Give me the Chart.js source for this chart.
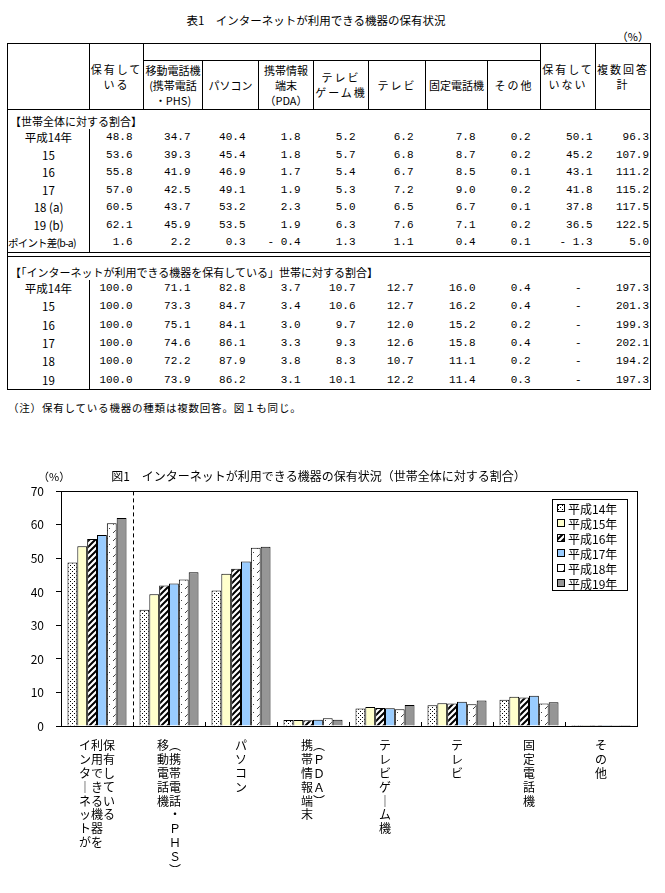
<!DOCTYPE html>
<html>
<head>
<meta charset="utf-8">
<script src="https://cdn.jsdelivr.net/npm/chart.js@4.4.1/dist/chart.umd.min.js"></script>
<style>
  body { margin: 0; width: 665px; height: 893px; position: relative; overflow: hidden; background: #fff;
         font-family: "Noto Sans CJK JP", sans-serif; font-size: 11px; color: #000; }
  #t1title { position: absolute; top: 12px; left: 0; width: 632px; text-align: center; font-size: 11.5px; }
  #unit { position: absolute; top: 28px; right: 16px; font-size: 11px; }
  #tbl { position: absolute; top: 43px; left: 7px; width: 643px; border-collapse: collapse;
         table-layout: fixed; border: 1px solid #000; }
  #tbl td { padding: 0; white-space: nowrap; overflow: visible; line-height: 15px; }
  #tbl tr.hA td, #tbl tr.hB td { border: 1px solid #000; text-align: center; vertical-align: middle; }
  #tbl tr.hA { height: 17px; }
  #tbl tr.hB { height: 49px; }
  .sp { letter-spacing: 2px; }
  #tbl tr.sec td { height: 19px; padding-left: 2px; vertical-align: bottom; }
  #tbl tr.sec2 td { height: 23px; padding-left: 2px; vertical-align: bottom; }
  #tbl tr.row td { height: 17.5px; text-align: right; font-family: "Liberation Mono", monospace; font-size: 11px; }
  #tbl tr.row2 td { height: 18.3px; }
  #tbl tr.row td.lab { border-right: 1px solid #000; text-align: center; font-family: "Noto Sans CJK JP", sans-serif; font-size: 11.5px; }
  #tbl tr.row td.labsm { font-size: 10.5px; letter-spacing: -0.8px; text-align: left; }
  #tbl tr.gap td { height: 3px; border-top: 1px solid #000; border-bottom: 1px solid #000; line-height: 0; }
  #note { position: absolute; top: 400px; left: 8px; letter-spacing: 0.8px; font-size: 10.5px; }
  #chartBox { position: absolute; top: 455px; left: 0; width: 665px; height: 438px; }
</style>
</head>
<body>
<div id="t1title">表1　インターネットが利用できる機器の保有状況</div>
<div id="unit">（%）</div>
<table id="tbl">
  <colgroup>
    <col style="width:82px"><col style="width:54px"><col style="width:59px"><col style="width:56px">
    <col style="width:55px"><col style="width:55px"><col style="width:57px"><col style="width:62px">
    <col style="width:53px"><col style="width:55px"><col style="width:55px">
  </colgroup>
  <tbody id="tbody">
    <tr class="hA">
      <td rowspan="2"></td>
      <td rowspan="2" class="sp">保有して<br>いる</td>
      <td colspan="7"></td>
      <td rowspan="2" class="sp">保有して<br>いない</td>
      <td rowspan="2" class="sp">複数回答<br>計</td>
    </tr>
    <tr class="hB">
      <td>移動電話機<br>(携帯電話<br>・PHS)</td>
      <td>パソコン</td>
      <td>携帯情報<br>端末<br>（PDA）</td>
      <td class="sp">テレビ<br>ゲーム機</td>
      <td class="sp">テレビ</td>
      <td>固定電話機</td>
      <td class="sp">その他</td>
    </tr>
  </tbody>
</table>
<div id="note">（注）保有している機器の種類は複数回答。図１も同じ。</div>
<div id="chartBox"><canvas id="chart1"></canvas></div>

<script>
// --- table data ---
const tableRows1 = ["平成14年", "15", "16", "17", "18 (a)", "19 (b)", "ポイント差(b-a)"];
const tableAll = [
    [48.8, 34.7, 40.4, 1.8, 5.2, 6.2, 7.8, 0.2, 50.1, 96.3],
    [53.6, 39.3, 45.4, 1.8, 5.7, 6.8, 8.7, 0.2, 45.2, 107.9],
    [55.8, 41.9, 46.9, 1.7, 5.4, 6.7, 8.5, 0.1, 43.1, 111.2],
    [57.0, 42.5, 49.1, 1.9, 5.3, 7.2, 9.0, 0.2, 41.8, 115.2],
    [60.5, 43.7, 53.2, 2.3, 5.0, 6.5, 6.7, 0.1, 37.8, 117.5],
    [62.1, 45.9, 53.5, 1.9, 6.3, 7.6, 7.1, 0.2, 36.5, 122.5],
    [1.6, 2.2, 0.3, -0.4, 1.3, 1.1, 0.4, 0.1, -1.3, 5.0]
];
const tableRows2 = ["平成14年", "15", "16", "17", "18", "19"];
const tableOwners = [
    [100.0, 71.1, 82.8, 3.7, 10.7, 12.7, 16.0, 0.4, null, 197.3],
    [100.0, 73.3, 84.7, 3.4, 10.6, 12.7, 16.2, 0.4, null, 201.3],
    [100.0, 75.1, 84.1, 3.0, 9.7, 12.0, 15.2, 0.2, null, 199.3],
    [100.0, 74.6, 86.1, 3.3, 9.3, 12.6, 15.8, 0.4, null, 202.1],
    [100.0, 72.2, 87.9, 3.8, 8.3, 10.7, 11.1, 0.2, null, 194.2],
    [100.0, 73.9, 86.2, 3.1, 10.1, 12.2, 11.4, 0.3, null, 197.3]
];

// --- chart data ---
const years = ["平成14年", "平成15年", "平成16年", "平成17年", "平成18年", "平成19年"];
// vertical labels, one array entry per text row
const categories = [
    ["イ利保", "ン用有", "タでし", "｜きて", "ネるい", "ッ機る", "ト器　", "がを　"],
    ["移︵", "動携", "電帯", "話電", "機話", "　・", "　Ｐ", "　Ｈ", "　Ｓ", "　︶"],
    ["パ", "ソ", "コ", "ン"],
    ["携︵", "帯Ｐ", "情Ｄ", "報Ａ", "端︶", "末　"],
    ["テ", "レ", "ビ", "ゲ", "｜", "ム", "機"],
    ["テ", "レ", "ビ"],
    ["固", "定", "電", "話", "機"],
    ["そ", "の", "他"]
];
const h14 = [48.8, 34.7, 40.4, 1.8, 5.2, 6.2, 7.8, 0.2];
const h15 = [53.6, 39.3, 45.4, 1.8, 5.7, 6.8, 8.7, 0.2];
const h16 = [55.8, 41.9, 46.9, 1.7, 5.4, 6.7, 8.5, 0.1];
const h17 = [57.0, 42.5, 49.1, 1.9, 5.3, 7.2, 9.0, 0.2];
const h18 = [60.5, 43.7, 53.2, 2.3, 5.0, 6.5, 6.7, 0.1];
const h19 = [62.1, 45.9, 53.5, 1.9, 6.3, 7.6, 7.1, 0.2];
const seriesList = [h14, h15, h16, h17, h18, h19];

// build table body
const tbody = document.getElementById("tbody");
const padRight = [11, 12, 13, 13, 13, 12, 12, 10, 3, 1];

function fmt(v) {
    if (v === null) return "-";
    const s = v.toFixed(1);
    return v < 0 ? "- " + s.slice(1) : s;
}

function addSection(title, cls, labels, rows, rowCls) {
    const tr = document.createElement("tr");
    tr.className = cls;
    const td = document.createElement("td");
    td.colSpan = 11;
    td.textContent = title;
    tr.appendChild(td);
    tbody.appendChild(tr);
    rows.forEach((vals, r) => {
        const row = document.createElement("tr");
        row.className = rowCls;
        const lab = document.createElement("td");
        lab.className = "lab";
        if (labels[r].length > 8) lab.classList.add("labsm");
        lab.textContent = labels[r];
        row.appendChild(lab);
        vals.forEach((v, c) => {
            const cell = document.createElement("td");
            cell.textContent = fmt(v);
            cell.style.paddingRight = (v === null ? 14 : padRight[c]) + "px";
            row.appendChild(cell);
        });
        tbody.appendChild(row);
    });
}

addSection("【世帯全体に対する割合】", "sec", tableRows1, tableAll, "row");
const gap = document.createElement("tr");
gap.className = "gap";
gap.innerHTML = '<td colspan="11"></td>';
tbody.appendChild(gap);
addSection("【「インターネットが利用できる機器を保有している」世帯に対する割合】", "sec2", tableRows2, tableOwners, "row row2");

// fill patterns
function makePattern(size, draw) {
    const c = document.createElement("canvas");
    c.width = size;
    c.height = size;
    const g = c.getContext("2d");
    g.fillStyle = "#fff";
    g.fillRect(0, 0, size, size);
    draw(g);
    return g.createPattern(c, "repeat");
}

const dots = makePattern(4, g => {
    g.fillStyle = "#000";
    g.fillRect(0, 0, 1, 1);
    g.fillRect(2, 2, 1, 1);
});
const boldHatch = makePattern(6, g => {
    g.strokeStyle = "#000";
    g.lineWidth = 2;
    g.beginPath();
    g.moveTo(-1, 7); g.lineTo(7, -1);
    g.moveTo(-4, 4); g.lineTo(4, -4);
    g.moveTo(2, 10); g.lineTo(10, 2);
    g.stroke();
});
const lightHatch = makePattern(8, g => {
    g.strokeStyle = "#444";
    g.lineWidth = 1;
    g.beginPath();
    g.moveTo(1, 6); g.lineTo(4, 3);
    g.moveTo(5, 2); g.lineTo(6, 1);
    g.stroke();
});
const fills = [dots, "#ffffcc", boldHatch, "#99ccff", lightHatch, "#969696"];

const FONT = '"Noto Sans CJK JP", sans-serif';
Chart.defaults.font.family = FONT;
Chart.defaults.color = "#000";

const framePlugin = {
    id: "frame",
    afterDraw(chart) {
        const { ctx, chartArea: a, scales: { x } } = chart;
        ctx.save();
        ctx.strokeStyle = "#000";
        ctx.lineWidth = 1;
        ctx.strokeRect(Math.round(a.left) + 0.5, Math.round(a.top) + 0.5,
            Math.round(a.right - a.left), Math.round(a.bottom - a.top));

        // dashed separator after first group
        const sx = Math.round((x.getPixelForTick(0) + x.getPixelForTick(1)) / 2) + 0.5;
        ctx.setLineDash([4, 3]);
        ctx.beginPath();
        ctx.moveTo(sx, a.top);
        ctx.lineTo(sx, a.bottom);
        ctx.stroke();
        ctx.setLineDash([]);

        // small inward ticks on the category axis
        for (let i = 1; i < x.ticks.length; i++) {
            const tx = Math.round((x.getPixelForTick(i - 1) + x.getPixelForTick(i)) / 2) + 0.5;
            ctx.beginPath();
            ctx.moveTo(tx, a.bottom);
            ctx.lineTo(tx, a.bottom - 4);
            ctx.stroke();
        }

        // unit
        ctx.fillStyle = "#000";
        ctx.font = "11px " + FONT;
        ctx.textBaseline = "middle";
        ctx.textAlign = "left";
        ctx.fillText("（%）", 38, 22);

        // legend box
        const lw = 75, lh = 91;
        const lx = Math.round(a.right) - 10 - lw, ly = Math.round(a.top) + 8;
        ctx.fillStyle = "#fff";
        ctx.fillRect(lx, ly, lw, lh);
        ctx.strokeRect(lx + 0.5, ly + 0.5, lw, lh);
        ctx.font = "12px " + FONT;
        chart.data.datasets.forEach((ds, i) => {
            const cy = ly + 9 + i * 15;
            ctx.fillStyle = ds.backgroundColor;
            ctx.fillRect(lx + 5, cy - 4, 8, 8);
            ctx.strokeRect(lx + 5.5, cy - 3.5, 7, 7);
            ctx.fillStyle = "#000";
            ctx.fillText(ds.label, lx + 16, cy + 1);
        });
        ctx.restore();
    }
};

new Chart(document.getElementById("chart1"), {
    type: "bar",
    data: {
        labels: categories,
        datasets: years.map((y, i) => ({
            label: y,
            data: seriesList[i],
            backgroundColor: fills[i],
            borderColor: "#000",
            borderWidth: 1,
            minBarLength: 1,
            barPercentage: 1,
            categoryPercentage: 0.82
        }))
    },
    options: {
        responsive: true,
        maintainAspectRatio: false,
        animation: false,
        layout: { padding: { left: 0, right: 28, top: 0, bottom: 0 } },
        plugins: {
            legend: { display: false },
            tooltip: { enabled: false },
            title: {
                display: true,
                text: "図1　インターネットが利用できる機器の保有状況（世帯全体に対する割合）",
                color: "#000",
                font: { size: 12, weight: "normal" },
                padding: { top: 14, bottom: 8 }
            }
        },
        scales: {
            x: {
                grid: { display: false },
                border: { color: "#000" },
                ticks: {
                    color: "#000",
                    font: { size: 12, lineHeight: 1.15 },
                    maxRotation: 0,
                    minRotation: 0,
                    autoSkip: false,
                    padding: 5
                },
                afterFit(s) { s.height = 167; }
            },
            y: {
                min: 0,
                max: 70,
                ticks: { stepSize: 10, color: "#000", padding: 12, font: { size: 12 } },
                grid: { drawOnChartArea: false, tickLength: 5, color: "#000" },
                border: { color: "#000" },
                afterFit(s) { s.width = 61; }
            }
        }
    },
    plugins: [framePlugin]
});
</script>
</body>
</html>
